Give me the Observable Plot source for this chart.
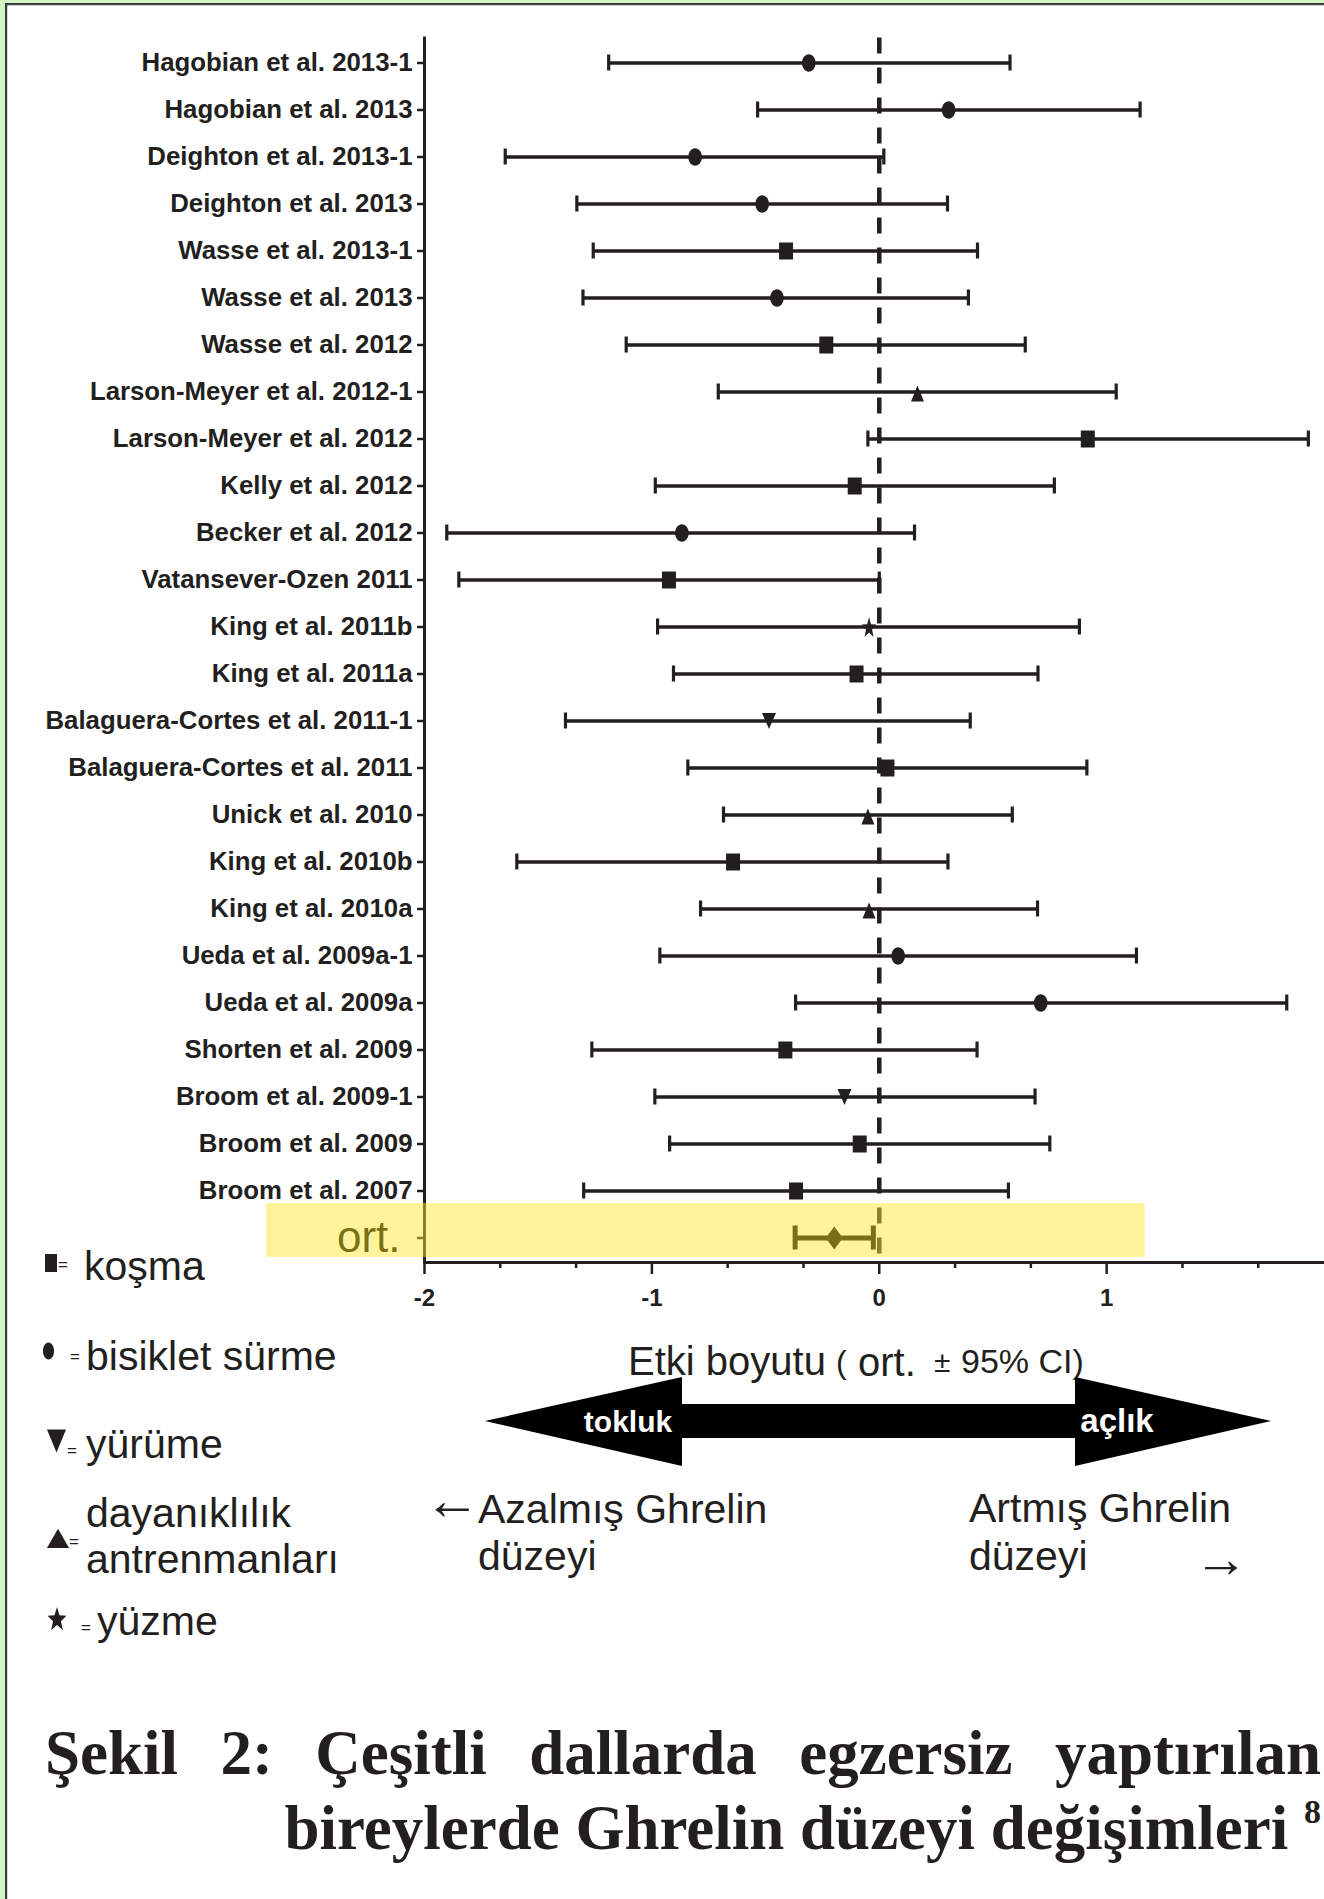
<!DOCTYPE html>
<html>
<head>
<meta charset="utf-8">
<script src="https://cdn.jsdelivr.net/npm/d3@7"></script>
<script src="https://cdn.jsdelivr.net/npm/@observablehq/plot@0.6"></script>
<style>
  html, body { margin: 0; padding: 0; background: #fff; }
  #page { position: relative; width: 1324px; height: 1899px; overflow: hidden; background: #fff; }
  #page > svg { position: absolute; left: 0; top: 0; }
  .cap { position: absolute; font-family: "Liberation Serif", serif; font-weight: bold; color: #231f20; white-space: nowrap; }
</style>
</head>
<body>
<div id="page"></div>
<script>
// ---------------- data ----------------
const studies = [
  "Hagobian et al. 2013-1", "Hagobian et al. 2013", "Deighton et al. 2013-1", "Deighton et al. 2013",
  "Wasse et al. 2013-1", "Wasse et al. 2013", "Wasse et al. 2012", "Larson-Meyer et al. 2012-1",
  "Larson-Meyer et al. 2012", "Kelly et al. 2012", "Becker et al. 2012", "Vatansever-Ozen 2011",
  "King et al. 2011b", "King et al. 2011a", "Balaguera-Cortes et al. 2011-1", "Balaguera-Cortes et al. 2011",
  "Unick et al. 2010", "King et al. 2010b", "King et al. 2010a", "Ueda et al. 2009a-1",
  "Ueda et al. 2009a", "Shorten et al. 2009", "Broom et al. 2009-1", "Broom et al. 2009", "Broom et al. 2007"
];
const estimates = [
  -0.31, 0.305, -0.81, -0.515, -0.41, -0.45, -0.233, 0.168,
  0.917, -0.108, -0.868, -0.925, -0.045, -0.10, -0.485, 0.036,
  -0.05, -0.643, -0.045, 0.083, 0.71, -0.413, -0.153, -0.086, -0.366
];
const lower = [
  -1.19, -0.535, -1.645, -1.33, -1.258, -1.303, -1.113, -0.708,
  -0.05, -0.985, -1.902, -1.849, -0.975, -0.905, -1.38, -0.842,
  -0.685, -1.594, -0.786, -0.965, -0.368, -1.264, -0.987, -0.922, -1.30
];
const upper = [
  0.575, 1.147, 0.02, 0.30, 0.432, 0.392, 0.642, 1.042,
  1.887, 0.77, 0.155, 0.0, 0.88, 0.698, 0.40, 0.913,
  0.585, 0.302, 0.696, 1.131, 1.792, 0.43, 0.685, 0.75, 0.568
];
const exerciseType = [
  "bisiklet", "bisiklet", "bisiklet", "bisiklet", "koşma", "bisiklet", "koşma", "dayanıklılık",
  "koşma", "koşma", "bisiklet", "koşma", "yüzme", "koşma", "yürüme", "koşma",
  "dayanıklılık", "koşma", "dayanıklılık", "bisiklet", "bisiklet", "koşma", "yürüme", "koşma", "koşma"
];
const pooledLabel = "ort.";
const pooledEstimate = -0.198;
const pooledLower = -0.37;
const pooledUpper = -0.026;

const xMajorTicks = [-2, -1, 0, 1];
const xMinorTicks = [-5/3, -4/3, -2/3, -1/3, 1/3, 2/3, 4/3, 5/3];
const xDomain = [-2, 1.958];
const highlightSpan = [-2.695, 1.169];

const legendTypes = ["koşma", "bisiklet", "yürüme", "dayanıklılık", "yüzme"];
const legendLabels = [["koşma"], ["bisiklet sürme"], ["yürüme"], ["dayanıklılık", "antrenmanları"], ["yüzme"]];
const axisTitle = ["Etki boyutu", "(", "ort.", "±", "95% CI)"];
const arrowWords = ["tokluk", "açlık"];
const leftNote = ["Azalmış Ghrelin", "düzeyi"];
const rightNote = ["Artmış Ghrelin", "düzeyi"];
const captionLine1 = "Şekil 2: Çeşitli dallarda egzersiz yaptırılan";
const captionLine2 = "bireylerde Ghrelin düzeyi değişimleri";
const captionRef = "8";

// ---------------- styles ----------------
const ink = "#231f20";
const sans = "'Liberation Sans', Arial, sans-serif";

function poly(pts) {
  return { draw(ctx) { ctx.moveTo(pts[0][0], pts[0][1]); for (const p of pts.slice(1)) ctx.lineTo(p[0], p[1]); ctx.closePath(); } };
}
const ellipseSym = {
  draw(ctx) {
    const rx = 6.8, ry = 8.7, k = 0.5523;
    ctx.moveTo(rx, 0);
    ctx.bezierCurveTo(rx, k * ry, k * rx, ry, 0, ry);
    ctx.bezierCurveTo(-k * rx, ry, -rx, k * ry, -rx, 0);
    ctx.bezierCurveTo(-rx, -k * ry, -k * rx, -ry, 0, -ry);
    ctx.bezierCurveTo(k * rx, -ry, rx, -k * ry, rx, 0);
    ctx.closePath();
  }
};
const squareSym = poly([[-7, -8.5], [7, -8.5], [7, 8.5], [-7, 8.5]]);
const triUpSym = poly([[0, -6.5], [6.5, 9.5], [-6.5, 9.5]]);
const triDownSym = poly([[-7, -8], [7, -8], [0, 8]]);
const starSym = (() => {
  const pts = [];
  for (let i = 0; i < 10; i++) {
    const a = -Math.PI / 2 + i * Math.PI / 5;
    const r = i % 2 === 0 ? 1 : 0.42;
    pts.push([7.6 * r * Math.cos(a), 11 * r * Math.sin(a) + 1]);
  }
  return poly(pts);
})();
const diamondSym = poly([[0, -11.5], [8.5, 0], [0, 11.5], [-8.5, 0]]);
const typeSymbol = { "koşma": squareSym, "bisiklet": ellipseSym, "yürüme": triDownSym, "dayanıklılık": triUpSym, "yüzme": starSym };

const rows = studies.map((s, i) => ({ study: s, est: estimates[i], lo: lower[i], hi: upper[i], type: exerciseType[i] }));
const pooledRows = [{ study: pooledLabel, est: pooledEstimate, lo: pooledLower, hi: pooledUpper }];

const page = document.getElementById("page");

// ---------------- chart ----------------
const chart = Plot.plot({
  width: 1324,
  height: 1322,
  marginTop: 37.5,
  marginBottom: 60,
  marginLeft: 424,
  marginRight: 0,
  style: { background: "transparent", color: ink, fontFamily: sans, overflow: "visible" },
  x: { domain: xDomain },
  y: { domain: [...studies, pooledLabel], type: "band", padding: 0 },
  marks: [
    Plot.ruleX([0], { strokeDasharray: "16,14", strokeWidth: 4.5, stroke: ink }),
    Plot.ruleY(rows, { y: "study", x1: "lo", x2: "hi", strokeWidth: 3.4, stroke: ink }),
    Plot.tickX(rows, { x: "lo", y: "study", insetTop: 15.5, insetBottom: 15.5, strokeWidth: 3.2, stroke: ink }),
    Plot.tickX(rows, { x: "hi", y: "study", insetTop: 15.5, insetBottom: 15.5, strokeWidth: 3.2, stroke: ink }),
    ...legendTypes.map(t => Plot.dot(rows.filter(r => r.type === t), { x: "est", y: "study", symbol: typeSymbol[t], fill: ink, stroke: "none" })),
    Plot.ruleY(pooledRows, { y: "study", x1: "lo", x2: "hi", strokeWidth: 5, stroke: "#000" }),
    Plot.tickX(pooledRows, { x: "lo", y: "study", insetTop: 11.5, insetBottom: 11.5, strokeWidth: 5, stroke: "#000" }),
    Plot.tickX(pooledRows, { x: "hi", y: "study", insetTop: 11.5, insetBottom: 11.5, strokeWidth: 5, stroke: "#000" }),
    Plot.dot(pooledRows, { x: "est", y: "study", symbol: diamondSym, fill: "#000", stroke: "none" }),
    Plot.frame({ anchor: "left", strokeWidth: 3, stroke: ink }),
    Plot.frame({ anchor: "bottom", strokeWidth: 3, stroke: ink }),
    Plot.axisY({ ticks: studies, tickSize: 7, tickPadding: 5, strokeWidth: 2.5, fontSize: 25.8, fontWeight: "bold", label: null }),
    // tick of the pooled row (its label is drawn separately, larger and not bold)
    Plot.ruleY([pooledLabel], { y: d => d, x1: () => xDomain[0], x2: () => xDomain[0], insetLeft: -7, strokeWidth: 2.5, stroke: ink }),
    Plot.axisX({ ticks: xMinorTicks, tickSize: 6, strokeWidth: 2.5, tickFormat: () => "", label: null }),
    Plot.axisX({ ticks: xMajorTicks, tickSize: 12, tickPadding: 14.5, strokeWidth: 2.5, fontSize: 24, fontWeight: "bold",
                 tickFormat: d => String(d), label: null }),
    Plot.text([pooledLabel], { y: d => d, frameAnchor: "left", textAnchor: "end", dx: -24, fontSize: 44, fontWeight: "normal", fill: "#000" }),
    Plot.barX([pooledLabel], { y: d => d, x1: () => highlightSpan[0], x2: () => highlightSpan[1], insetTop: -11, insetBottom: 4,
                               fill: "rgb(255,233,46)", fillOpacity: 0.48 })
  ]
});
page.appendChild(chart);

// ---------------- annotations (legend, axis title, arrow, notes) ----------------
const ann = d3.select(page).append("svg")
  .attr("width", 1324).attr("height", 1899)
  .style("pointer-events", "none");

// figure box border
ann.append("rect").attr("x", 0).attr("y", 0).attr("width", 5).attr("height", 1899).attr("fill", "#d3f3c0");
ann.append("rect").attr("x", 0).attr("y", 0).attr("width", 1324).attr("height", 3).attr("fill", "#d3f3c0");
ann.append("rect").attr("x", 5).attr("y", 3).attr("width", 2.2).attr("height", 1896).attr("fill", "#3a3a3a");
ann.append("rect").attr("x", 5).attr("y", 3).attr("width", 1319).attr("height", 2.2).attr("fill", "#3a3a3a");

function txt(str, x, y, size, o = {}) {
  const t = ann.append("text").attr("x", x).attr("y", y)
    .attr("font-size", size)
    .attr("font-family", o.family || sans)
    .attr("font-weight", o.weight || "normal")
    .attr("fill", o.fill || ink)
    .attr("text-anchor", o.anchor || "start")
    .text(str);
  if (o.baseline) t.attr("dominant-baseline", o.baseline);
  return t;
}
function shape(sym, x, y, sx, sy) {
  const p = d3.path(); sym.draw(p);
  ann.append("path").attr("d", p.toString()).attr("fill", ink)
    .attr("transform", `translate(${x},${y}) scale(${sx},${sy})`);
}

// legend
shape(squareSym, 51, 1263, 0.86, 1.06);  txt("=", 58, 1270, 17);  txt(legendLabels[0][0], 84, 1280, 41);
shape(ellipseSym, 48.5, 1351, 0.82, 0.98); txt("=", 70, 1362, 17); txt(legendLabels[1][0], 86, 1370, 41);
shape(triDownSym, 56.5, 1441, 1.36, 1.44); txt("=", 67, 1456, 17); txt(legendLabels[2][0], 86, 1458, 41);
shape(triUpSym, 58, 1536.5, 1.7, 1.2);    txt("=", 69, 1547, 17);
txt(legendLabels[3][0], 86, 1527, 41); txt(legendLabels[3][1], 86, 1573, 41);
shape(starSym, 57, 1618.5, 1.3, 1.15);    txt("=", 81, 1633, 17); txt(legendLabels[4][0], 97, 1635, 41);

// axis title
txt(axisTitle[0], 628, 1375, 40);
txt(axisTitle[1], 836, 1373, 32);
txt(axisTitle[2], 858, 1376, 40);
txt(axisTitle[3], 934, 1372, 30);
txt(axisTitle[4], 961, 1373, 34);

// double arrow
ann.append("polygon").attr("fill", "#000").attr("points", [
  [485, 1421], [682, 1377], [682, 1404], [1075, 1404], [1075, 1377], [1271, 1421],
  [1075, 1466], [1075, 1438], [682, 1438], [682, 1466]
].map(p => p.join(",")).join(" "));
txt(arrowWords[0], 628, 1432, 30, { weight: "bold", fill: "#fff", anchor: "middle" });
txt(arrowWords[1], 1117, 1432, 33, { weight: "bold", fill: "#fff", anchor: "middle" });

// notes under the arrow
txt("←", 424, 1500, 56, { family: "'Liberation Serif', serif", baseline: "central" });
txt(leftNote[0], 478, 1523, 41); txt(leftNote[1], 478, 1570, 41);
txt(rightNote[0], 969, 1522, 41); txt(rightNote[1], 969, 1570, 41);
txt("→", 1194, 1559, 54, { family: "'Liberation Serif', serif", baseline: "central" });

// ---------------- caption ----------------
const c1 = document.createElement("div");
c1.className = "cap";
c1.style.cssText = "left:45px; top:1722px; width:1276px; font-size:63px; line-height:63px; text-align:justify; text-align-last:justify; white-space:normal;";
c1.textContent = captionLine1;
page.appendChild(c1);
const c2 = document.createElement("div");
c2.className = "cap";
c2.style.cssText = "right:3px; top:1797px; font-size:63px; line-height:63px; text-align:right;";
c2.innerHTML = captionLine2 + ' <sup style="font-size:34px; vertical-align: 26px; line-height:0">' + captionRef + '</sup>';
page.appendChild(c2);
</script>
</body>
</html>
